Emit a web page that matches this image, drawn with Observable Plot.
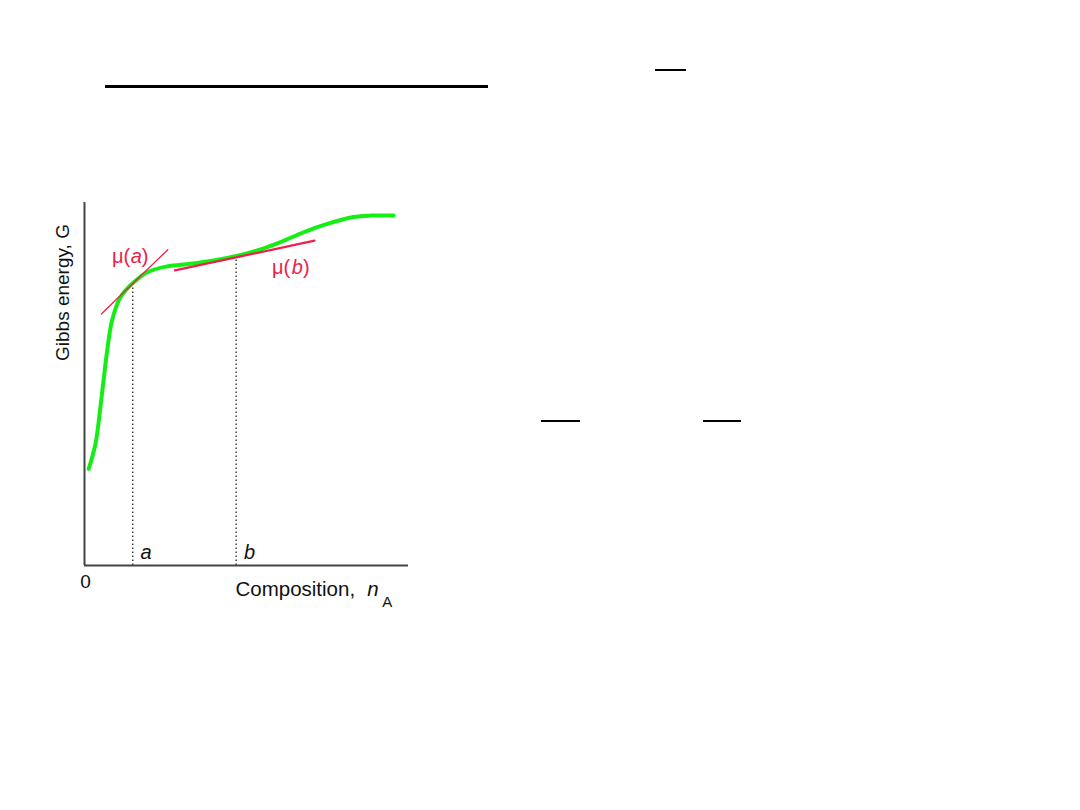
<!DOCTYPE html>
<html>
<head>
<meta charset="utf-8">
<script src="https://cdn.jsdelivr.net/npm/d3@7"></script>
<script src="https://cdn.jsdelivr.net/npm/@observablehq/plot@0.6"></script>
<style>
  html, body { margin: 0; padding: 0; background: #fff; }
  #wrap { position: relative; width: 1080px; height: 810px; overflow: hidden; }
  .bar { position: absolute; background: #000; }
  #chart { position: absolute; left: 0; top: 0; }
</style>
</head>
<body>
<div id="wrap">
  <div class="bar" style="left:105px;top:85px;width:383px;height:3px;"></div>
  <div class="bar" style="left:655px;top:69px;width:31px;height:2px;"></div>
  <div class="bar" style="left:541px;top:420px;width:39px;height:2px;"></div>
  <div class="bar" style="left:703px;top:420px;width:38px;height:2px;"></div>
  <div id="chart"></div>
</div>
<script>
// Gibbs energy curve (composition, G) in arbitrary units
const curveX = [0.13, 0.34, 0.49, 0.60, 0.70, 0.85, 1.11, 1.47, 1.94, 2.55, 3.27, 3.98, 4.66, 5.33, 6.05, 6.76, 7.49, 8.30, 8.83, 9.54];
const curveY = [2.66, 3.36, 4.35, 5.19, 5.92, 6.75, 7.39, 7.76, 8.08, 8.24, 8.31, 8.40, 8.52, 8.68, 8.91, 9.18, 9.41, 9.60, 9.64, 9.64];
// tangent lines (chemical potentials) at compositions a and b
const tangentAX = [0.52, 2.57];
const tangentAY = [6.93, 8.70];
const tangentBX = [2.79, 7.10];
const tangentBY = [8.13, 8.95];
// compositions a and b and G there
const markNames = ["a", "b"];
const markX = [1.49, 4.68];
const markG = [7.76, 8.52];

const curve = curveX.map((x, i) => ({x, y: curveY[i]}));
const tanA = tangentAX.map((x, i) => ({x, y: tangentAY[i]}));
const tanB = tangentBX.map((x, i) => ({x, y: tangentBY[i]}));
const marks = markNames.map((n, i) => ({n, x: markX[i], g: markG[i]}));

const green = "#14ee14";
const red = "#f0204c";
const font = "Liberation Sans, Arial, sans-serif";

const txt = (t, x, y, opts = {}) =>
  Plot.text([t], {x: () => x, y: () => y, text: d => d, textAnchor: "start",
    lineAnchor: "bottom", fontSize: 20, fill: "#111", ...opts});

const plot = Plot.plot({
  width: 1080,
  height: 810,
  marginLeft: 84,
  marginRight: 672,
  marginTop: 202,
  marginBottom: 245,
  x: {domain: [0, 10], axis: null},
  y: {domain: [0, 10], axis: null},
  style: {fontFamily: font, background: "transparent", overflow: "visible"},
  marks: [
    Plot.ruleX(marks, {x: "x", y1: 0, y2: "g", stroke: "#222", strokeWidth: 1.3, strokeDasharray: "1.5,2.5"}),
    Plot.line(curve, {x: "x", y: "y", stroke: green, strokeWidth: 4, curve: "catmull-rom"}),
    Plot.line(tanA, {x: "x", y: "y", stroke: red, strokeWidth: 1.3}),
    Plot.line(tanB, {x: "x", y: "y", stroke: red, strokeWidth: 2.2}),
    Plot.ruleX([0], {stroke: "#444", strokeWidth: 2}),
    Plot.ruleY([0], {stroke: "#444", strokeWidth: 2}),
    Plot.text(marks, {x: d => d.x + 0.24, y: 0.19, text: "n", textAnchor: "start", lineAnchor: "bottom", fontSize: 20, fontStyle: "italic", fill: "#111"}),
    txt("0", 0.03, -0.61, {textAnchor: "middle", fontSize: 19}),
    txt("Composition,", 4.66, -0.83, {fontSize: 20.5}),
    txt("n", 8.73, -0.83, {fontStyle: "italic", fontSize: 20.5}),
    txt("A", 9.19, -1.15, {fontSize: 15}),
    Plot.text(["Gibbs energy, G"], {x: () => -0.68, y: () => 7.52, text: d => d, rotate: -90, textAnchor: "middle", lineAnchor: "middle", fontSize: 19, fill: "#111"}),
    txt("\u03bc(", 0.85, 8.51, {lineAnchor: "middle", fill: red}),
    txt("a", 1.43, 8.51, {lineAnchor: "middle", fill: red, fontStyle: "italic"}),
    txt(")", 1.77, 8.51, {lineAnchor: "middle", fill: red}),
    txt("\u03bc(", 5.79, 8.22, {lineAnchor: "middle", fill: red}),
    txt("b", 6.40, 8.22, {lineAnchor: "middle", fill: red, fontStyle: "italic"}),
    txt(")", 6.74, 8.22, {lineAnchor: "middle", fill: red})
  ]
});
document.getElementById("chart").appendChild(plot);
</script>
</body>
</html>
